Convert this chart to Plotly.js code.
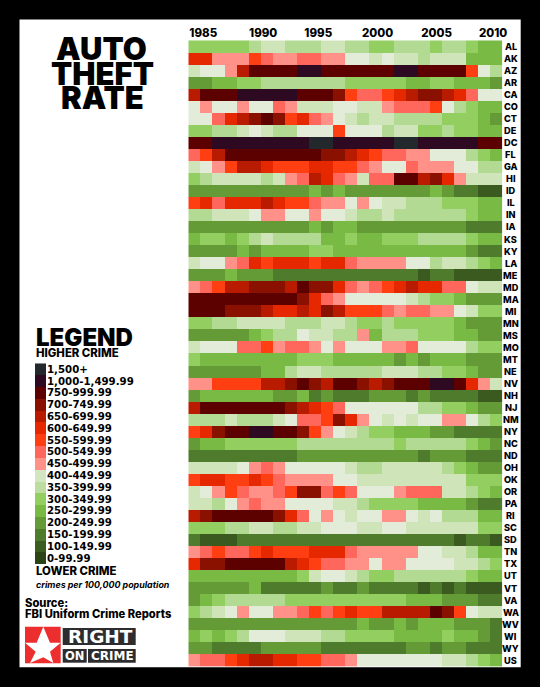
<!DOCTYPE html>
<html><head><meta charset="utf-8">
<script src="https://cdn.plot.ly/plotly-3.0.1.min.js"></script>
<style>html,body{margin:0;padding:0;background:#000}#c{width:540px;height:687px}</style>
</head><body><div id="c"></div>
<script>
const years=[1985,1986,1987,1988,1989,1990,1991,1992,1993,1994,1995,1996,1997,1998,1999,2000,2001,2002,2003,2004,2005,2006,2007,2008,2009,2010];
const tickLabels=['1985','1990','1995','2000','2005','2010'];
const tickSpots=[1985.74,1990.7,1995.26,2000.17,2005.06,2009.74];
const states=['AL','AK','AZ','AR','CA','CO','CT','DE','DC','FL','GA','HI','ID','IL','IN','IA','KS','KY','LA','ME','MD','MA','MI','MN','MS','MO','MT','NE','NV','NH','NJ','NM','NY','NC','ND','OH','OK','OR','PA','RI','SC','SD','TN','TX','UT','VT','VA','WA','WV','WI','WY','US'];
const AL=[275,275,275,275,275,325,375,375,325,325,325,375,375,325,325,275,275,325,325,325,275,325,325,275,225,225];
const AK=[625,625,475,475,475,575,525,475,475,525,525,475,475,425,425,375,425,375,375,325,375,375,375,225,225,225];
const AZ=[375,425,425,475,675,875,875,875,875,1250,1250,875,875,875,875,875,875,1250,1250,875,875,875,875,575,425,325];
const AR=[175,175,225,225,275,275,325,325,325,325,325,325,325,275,275,275,275,275,225,225,275,275,225,225,225,175];
const CA=[675,875,875,875,1250,1250,1250,1250,1250,875,875,875,725,575,525,525,575,625,675,725,725,675,625,525,425,425];
const CO=[425,475,425,425,475,425,425,525,475,375,375,375,425,425,375,375,475,525,525,525,575,425,325,275,225,225];
const CT=[425,425,525,625,675,725,875,725,575,625,525,475,425,375,325,375,375,325,325,325,325,275,275,275,225,175];
const DE=[275,275,325,325,375,425,375,325,325,425,425,425,575,425,425,425,325,375,375,275,275,325,275,275,225,225];
const DC=[875,875,1250,1250,1250,1250,1250,1250,1250,1250,1600,1600,1250,1250,1250,1250,1250,1600,1600,1250,1250,1250,1250,1250,875,875];
const FL=[525,575,675,875,875,875,875,875,875,875,875,725,725,675,625,575,525,525,475,475,425,425,425,325,275,225];
const GA=[375,425,475,575,675,675,625,575,575,575,625,625,575,575,525,475,425,425,525,475,475,475,425,425,325,325];
const HI=[275,325,375,375,375,375,325,375,475,525,675,625,525,475,375,525,525,875,875,675,725,625,475,375,375,375];
const ID=[175,175,175,175,175,175,175,175,175,175,225,175,225,175,175,175,175,175,175,175,225,175,125,125,50,50];
const IL=[575,625,525,625,625,625,675,625,575,575,525,475,475,425,475,425,375,375,325,325,325,275,275,275,225,225];
const IN=[325,325,375,375,375,425,475,475,425,425,475,425,425,375,325,325,375,325,325,325,325,325,325,275,225,225];
const IA=[175,175,175,175,175,175,175,175,175,175,225,175,225,225,175,175,175,175,175,175,175,175,175,125,125,125];
const KS=[225,275,275,225,275,325,375,325,325,325,325,225,225,275,225,225,275,275,275,325,325,325,325,275,225,225];
const KY=[175,175,175,175,225,175,225,225,225,225,275,275,225,225,225,225,225,225,225,225,225,225,225,175,125,125];
const LA=[375,425,425,475,525,625,575,625,625,625,575,625,625,525,475,475,475,475,425,425,325,375,375,325,275,225];
const ME=[175,175,175,225,175,175,175,125,125,125,125,125,125,125,125,125,125,125,125,50,125,125,50,50,50,50];
const MD=[475,525,575,675,675,725,725,725,675,875,725,725,625,525,475,525,575,625,675,625,625,525,525,425,375,375];
const MA=[875,875,875,875,875,875,875,875,875,725,625,525,475,425,425,425,425,425,375,325,275,275,225,175,175,175];
const MI=[875,875,875,725,725,725,675,625,625,675,625,725,675,575,575,575,525,475,525,525,475,475,425,375,275,275];
const MN=[275,275,325,325,375,375,375,375,325,325,325,375,375,325,275,275,325,275,275,275,275,275,225,175,175,175];
const MS=[175,175,175,175,175,225,275,325,325,425,375,375,325,325,475,225,325,325,325,275,275,275,225,225,175,175];
const MO=[375,425,425,425,525,525,575,475,525,525,475,425,475,425,425,425,475,475,525,425,425,425,425,325,275,275];
const MT=[275,225,225,225,225,225,225,225,225,275,275,275,225,225,225,225,225,175,225,175,225,225,225,175,175,175];
const NE=[175,175,175,175,175,175,225,225,325,375,375,325,325,325,325,325,375,375,375,325,325,275,275,225,175,175];
const NV=[475,475,575,575,575,575,675,675,725,875,725,675,875,875,725,675,725,875,875,875,1250,1250,875,625,475,375];
const NH=[175,225,225,225,225,225,225,175,175,225,125,175,125,125,125,175,175,175,125,175,125,125,125,125,50,50];
const NJ=[675,875,875,875,875,875,875,875,725,675,625,575,525,425,425,425,425,425,425,325,325,275,275,225,175,175];
const NM=[325,325,325,375,325,325,325,375,425,525,525,575,725,625,475,425,375,425,375,425,425,475,475,425,325,275];
const NY=[575,625,725,875,875,1250,1250,875,875,725,575,475,425,375,325,275,275,225,225,225,175,175,125,125,125,125];
const NC=[175,225,225,275,275,275,275,275,275,325,325,325,325,325,325,325,325,275,325,325,325,325,325,275,225,175];
const ND=[125,125,125,125,125,125,125,125,125,175,175,175,175,175,175,175,175,175,175,125,175,175,175,125,125,125];
const OH=[375,375,375,375,425,475,525,475,425,425,425,425,425,375,325,325,375,375,375,375,375,325,275,225,175,175];
const OK=[575,625,625,575,575,625,575,525,475,475,475,475,425,425,375,375,375,375,375,375,375,375,375,275,275,275];
const OR=[375,425,475,575,525,475,475,525,575,725,725,525,575,525,425,425,425,475,525,525,525,375,375,325,275,225];
const PA=[375,375,325,425,475,525,475,475,425,425,425,425,375,375,325,275,275,275,275,225,225,225,225,175,125,125];
const RI=[675,725,875,875,875,875,875,725,625,525,425,475,425,375,425,425,475,475,425,375,425,325,325,325,225,225];
const SC=[275,275,275,325,325,375,375,325,325,375,375,425,425,425,375,375,425,425,375,375,375,375,375,375,275,275];
const SD=[125,50,50,50,125,125,125,125,125,125,125,125,125,125,125,125,125,125,125,125,125,125,50,125,125,50];
const TN=[475,525,575,525,525,575,625,575,575,575,625,625,625,525,475,475,475,475,475,425,425,375,375,325,225,225];
const TX=[625,725,725,875,875,875,875,875,675,625,575,525,525,475,475,425,475,475,425,425,425,425,375,375,325,275];
const UT=[225,225,225,225,225,225,225,225,225,275,375,425,425,375,325,275,275,325,325,325,325,325,325,275,225,225];
const VT=[175,175,175,175,175,225,125,125,125,125,125,175,125,125,175,125,125,125,125,50,125,50,125,50,50,50];
const VA=[175,225,275,325,325,325,325,325,275,275,275,275,275,275,275,275,275,275,225,225,225,175,175,175,125,125];
const WA=[275,325,375,425,475,425,425,475,475,525,575,525,575,625,575,575,675,675,675,675,875,725,575,425,375,375];
const WV=[175,175,175,175,175,175,175,175,175,175,175,175,175,175,225,175,175,225,175,225,225,225,175,175,175,125];
const WI=[225,275,225,275,325,425,425,425,375,375,375,325,325,275,275,275,275,225,225,225,225,275,225,225,175,125];
const WY=[175,175,125,125,125,125,175,175,175,175,175,125,125,125,125,125,125,125,175,175,125,175,175,125,125,125];
const US=[475,525,525,575,625,675,675,625,625,575,575,525,525,475,425,425,425,425,425,425,425,375,375,325,275,225];
const stateRows=[AL,AK,AZ,AR,CA,CO,CT,DE,DC,FL,GA,HI,ID,IL,IN,IA,KS,KY,LA,ME,MD,MA,MI,MN,MS,MO,MT,NE,NV,NH,NJ,NM,NY,NC,ND,OH,OK,OR,PA,RI,SC,SD,TN,TX,UT,VT,VA,WA,WV,WI,WY,US];
const binFloors=[0,100,150,200,250,300,350,400,450,500,550,600,650,700,750,1000,1500];
const binLabels=['0-99.99','100-149.99','150-199.99','200-249.99','250-299.99','300-349.99','350-399.99','400-449.99','450-499.99','500-549.99','550-599.99','600-649.99','650-699.99','700-749.99','750-999.99','1,000-1,499.99','1,500+'];
const mapColors=['#3b5a20','#4f7b2c','#659b37','#79ba45','#93cf60','#b2da93','#cfe5b9','#e3ebd9','#ff9188','#ff675c','#ff3e12','#e62800','#b81b00','#8a1000','#5c0000','#2e0a22','#22282b'];
const legendColors=['#2b4416','#3b5e20','#4f7b2c','#659b37','#79ba45','#93cf60','#bcdd9f','#d3e6c2','#ff9188','#ff675c','#ff3e12','#e62800','#b81b00','#8a1000','#5c0000','#2e0a22','#22282b'];

const W=540,H=687;
const px=x=>x/W, py=y=>1-y/H;
const level=v=>{let k=0;binFloors.forEach((f,i)=>{if(v>=f)k=i;});return k;};
const steps=c=>c.flatMap((col,i)=>[[i/c.length,col],[(i+1)/c.length,col]]);
const FONT='Inter, "Open Sans", sans-serif';
const WIDE='"DejaVu Sans", sans-serif';
const note=(text,x,y,size,opt={})=>Object.assign({
  text,xref:'paper',yref:'paper',x:px(x),y:py(y),xanchor:'left',yanchor:'middle',showarrow:false,
  font:{family:opt.family||FONT,size,color:opt.color||'#000',weight:opt.weight||700,style:opt.style||'normal'},borderpad:0
},opt.xanchor?{xanchor:opt.xanchor}:{});
const rect=(x0,y0,x1,y1,fill)=>({type:'rect',xref:'paper',yref:'paper',x0:px(x0),x1:px(x1),y0:py(y0),y1:py(y1),fillcolor:fill,line:{width:0},layer:'below'});
const poly=(pts,fill)=>({type:'path',xref:'paper',yref:'paper',path:'M'+pts.map(p=>px(p[0])+','+py(p[1])).join('L')+'Z',fillcolor:fill,line:{width:0},layer:'below'});

const traces=[
 {type:'heatmap',x:years,y:states,z:stateRows.map(r=>r.map(level)),zmin:-0.5,zmax:16.5,colorscale:steps(mapColors),showscale:false,xaxis:'x',yaxis:'y',hoverinfo:'skip'},
 {type:'heatmap',x:[0],y:binLabels,z:binLabels.map((_,i)=>[i]),zmin:-0.5,zmax:16.5,colorscale:steps(legendColors),showscale:false,xaxis:'x2',yaxis:'y2',hoverinfo:'skip'}
];
const annotations=[
 note('AUTO',101.5,49,31,{xanchor:'center',weight:900}),
 note('THEFT',102.5,73.7,31,{xanchor:'center',weight:900}),
 note('RATE',102,98,31,{xanchor:'center',weight:900}),
 note('LEGEND',34.5,337.7,24,{weight:900}),
 note('HIGHER CRIME',34.5,353.3,11.4,{weight:800}),
 note('LOWER CRIME',34.5,571,11.4,{weight:800}),
 note('crimes per 100,000 population',34.5,584,8.9,{style:'italic',weight:700}),
 note('Source:',24,603,11.2,{weight:800}),
 note('FBI Uniform Crime Reports',24,614.3,11.2,{weight:800}),
 note('RIGHT',100.3,636.7,18.5,{xanchor:'center',color:'#fff',weight:700,family:WIDE}),
 note('ON',74.7,656,11.5,{xanchor:'center',color:'#fff',weight:700,family:WIDE}),
 note('CRIME',112.5,656,12,{xanchor:'center',color:'#fff',weight:700,family:WIDE})
].concat(states.map(s=>({text:s,xref:'paper',yref:'y',x:px(510.7),y:s,xanchor:'center',yanchor:'middle',showarrow:false,font:{family:FONT,size:9.2,color:'#000',weight:800},borderpad:0})));

const shapes=[
 rect(19.5,19.5,520.7,667.3,'#fff'),
 rect(25,626.7,60.7,663.3,'#ec2f2e'),
 poly([[43.3,626.7],[50,642.7],[60.7,642.7],[50,651.7],[53.3,663],[43.3,657.3],[30,663],[35.7,651.7],[25,642.7],[36.7,642.7]],'#fff'),
 rect(62.7,628,135.7,645,'#2d2c2e'),
 rect(62.7,649,86.7,662.7,'#2d2c2e'),
 rect(88,649,135.7,662.7,'#2d2c2e')
];
const layout={
 width:W,height:H,margin:{l:0,r:0,t:0,b:0},paper_bgcolor:'#000',plot_bgcolor:'rgba(0,0,0,0)',showlegend:false,
 xaxis:{domain:[px(188.3),px(502.3)],range:[1984.5,2010.5],side:'top',tickvals:tickSpots,ticktext:tickLabels,ticks:'',showgrid:false,zeroline:false,showline:false,ticklabelstandoff:0,
   tickfont:{family:FONT,size:11.5,color:'#000',weight:800},tickangle:0},
 yaxis:{domain:[py(666.7),py(40)],type:'category',autorange:'reversed',showticklabels:false,ticks:'',showgrid:false,zeroline:false,showline:false},
 xaxis2:{domain:[px(35),px(46)],anchor:'y2',showticklabels:false,ticks:'',showgrid:false,zeroline:false,showline:false},
 yaxis2:{domain:[py(564),py(363.3)],anchor:'x2',type:'category',side:'right',ticks:'',showgrid:false,zeroline:false,showline:false,
   tickmode:'array',tickvals:binLabels,ticktext:binLabels,tickfont:{family:WIDE,size:10.2,color:'#000',weight:700}},
 annotations,shapes
};
Plotly.newPlot('c',traces,layout,{staticPlot:true,displayModeBar:false});
</script></body></html>
